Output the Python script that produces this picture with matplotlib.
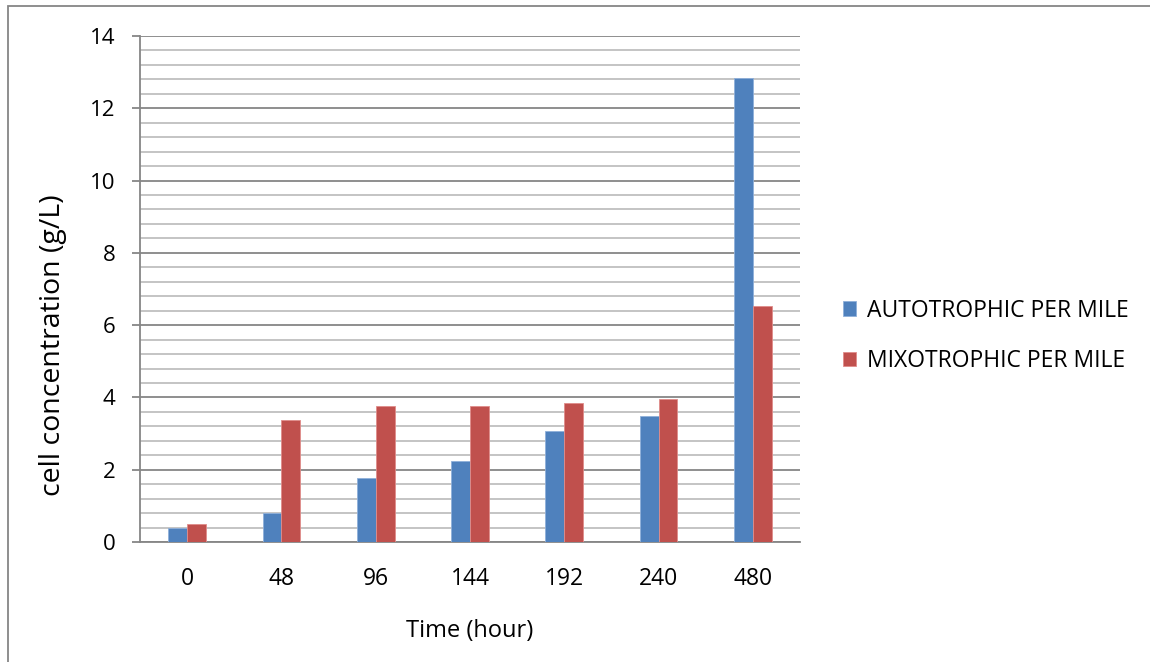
import matplotlib.pyplot as plt
import numpy as np
from matplotlib.patches import Rectangle

# data
hours = ['0', '48', '96', '144', '192', '240', '480']
autotrophic = [0.40, 0.80, 1.77, 2.24, 3.07, 3.49, 12.84]
mixotrophic = [0.50, 3.38, 3.76, 3.76, 3.85, 3.96, 6.53]
series_names = ['AUTOTROPHIC PER MILE', 'MIXOTROPHIC PER MILE']

plt.rcParams['font.family'] = ['Open Sans', 'DejaVu Sans']

fig = plt.figure(figsize=(11.5, 6.62), dpi=100)
ax = fig.add_axes([140 / 1150, 1 - 542 / 662, 660 / 1150, 506 / 662])

x = np.arange(len(hours))
w = 0.2
ax.bar(x - w / 2, autotrophic, w, color='#4F81BD', edgecolor='#8FB0DA',
       linewidth=0.6, label=series_names[0], zorder=3)
ax.bar(x + w / 2, mixotrophic, w, color='#C0504D', edgecolor='#E08C8A',
       linewidth=0.6, label=series_names[1], zorder=3)

ax.set_xlim(-0.5, len(hours) - 0.5)
ax.set_ylim(0, 14)
ax.set_xticks(x)
ax.set_xticklabels(hours)
ax.set_yticks(np.arange(0, 15, 2))
ax.set_yticks(np.arange(0, 14.01, 0.4), minor=True)

# gridlines: light minor, darker major
ax.grid(axis='y', which='minor', color='#BFBFBF', linewidth=1.3, zorder=0)
ax.grid(axis='y', which='major', color='#868686', linewidth=1.3, zorder=1)

for s in ['top', 'right']:
    ax.spines[s].set_visible(False)
for s in ['left', 'bottom']:
    ax.spines[s].set_color('#868686')
    ax.spines[s].set_linewidth(1.3)

ax.tick_params(axis='y', which='major', length=5.8, width=1.3, color='#868686',
               labelsize=16, pad=12)
ax.tick_params(axis='y', which='minor', length=0)
ax.tick_params(axis='x', length=0, labelsize=16.5, pad=18)

ax.set_xlabel('Time (hour)', fontsize=17, labelpad=20)
ax.set_ylabel('cell concentration (g/L)', fontsize=20.5)
ax.yaxis.set_label_coords(-0.111, (542 - 345) / 506)

leg = fig.legend(loc='center left', bbox_to_anchor=(822 / 1150, 1 - 336 / 662),
                 frameon=False, fontsize=16.5, handlelength=0.6, handleheight=0.6,
                 handletextpad=0.45, labelspacing=1.15)

# outer chart border (top and left edges visible)
fig.patches.append(Rectangle((8 / 1150, -0.1), 1.2, 1 - 6 / 662 + 0.1,
                             transform=fig.transFigure, fill=False,
                             edgecolor='#868686', linewidth=1.3))

fig.savefig('out.png', dpi=100)
